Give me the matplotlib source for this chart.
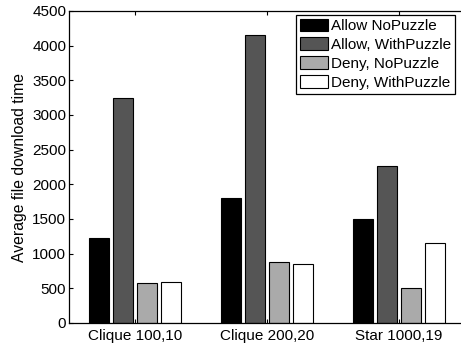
import matplotlib
matplotlib.use("Agg")
import matplotlib.pyplot as plt
import numpy as np

plt.rcParams['font.family'] = ['Liberation Sans', 'DejaVu Sans']

categories = ["Clique 100,10", "Clique 200,20", "Star 1000,19"]
series_names = ["Allow NoPuzzle", "Allow, WithPuzzle", "Deny, NoPuzzle", "Deny, WithPuzzle"]
allow_nopuzzle = [1230, 1800, 1500]
allow_withpuzzle = [3250, 4160, 2270]
deny_nopuzzle = [580, 885, 500]
deny_withpuzzle = [590, 845, 1150]
y_ticks = [0, 500, 1000, 1500, 2000, 2500, 3000, 3500, 4000, 4500]

series = [allow_nopuzzle, allow_withpuzzle, deny_nopuzzle, deny_withpuzzle]
colors = ["#000000", "#555555", "#aaaaaa", "#ffffff"]
offsets = [-0.273, -0.091, 0.091, 0.273]
bar_w = 0.152

fig = plt.figure(figsize=(4.61, 3.46), dpi=100)
ax = fig.add_axes([69/461, 1-323/346, 396/461, 312/346])

x = np.arange(1, len(categories)+1)
for vals, c, off, name in zip(series, colors, offsets, series_names):
    ax.bar(x + off, vals, width=bar_w, color=c, edgecolor='black', linewidth=0.8, label=name)

ax.set_xlim(0.5, 3.5)
ax.set_ylim(0, 4500)
ax.set_xticks(x)
ax.set_xticklabels(categories, fontsize=11)
ax.set_yticks(y_ticks)
ax.set_yticklabels([str(v) for v in y_ticks], fontsize=11)
ax.tick_params(direction='in', top=True, right=True, length=3, width=0.8)
ax.tick_params(axis='x', pad=4)
ax.tick_params(axis='y', pad=2)
for s in ax.spines.values():
    s.set_linewidth(0.9)
ax.set_ylabel("Average file download time", fontsize=11.3, labelpad=4)

leg = ax.legend(loc='upper right', bbox_to_anchor=(455/461, 1-14.7/346),
                bbox_transform=fig.transFigure, fontsize=11, frameon=True,
                fancybox=False, edgecolor='black', framealpha=1,
                handlelength=1.85, handleheight=0.9, handletextpad=0.2,
                labelspacing=0.28, borderpad=0.25, borderaxespad=0)
leg.get_frame().set_linewidth(0.9)

fig.savefig("out.png", dpi=100)
